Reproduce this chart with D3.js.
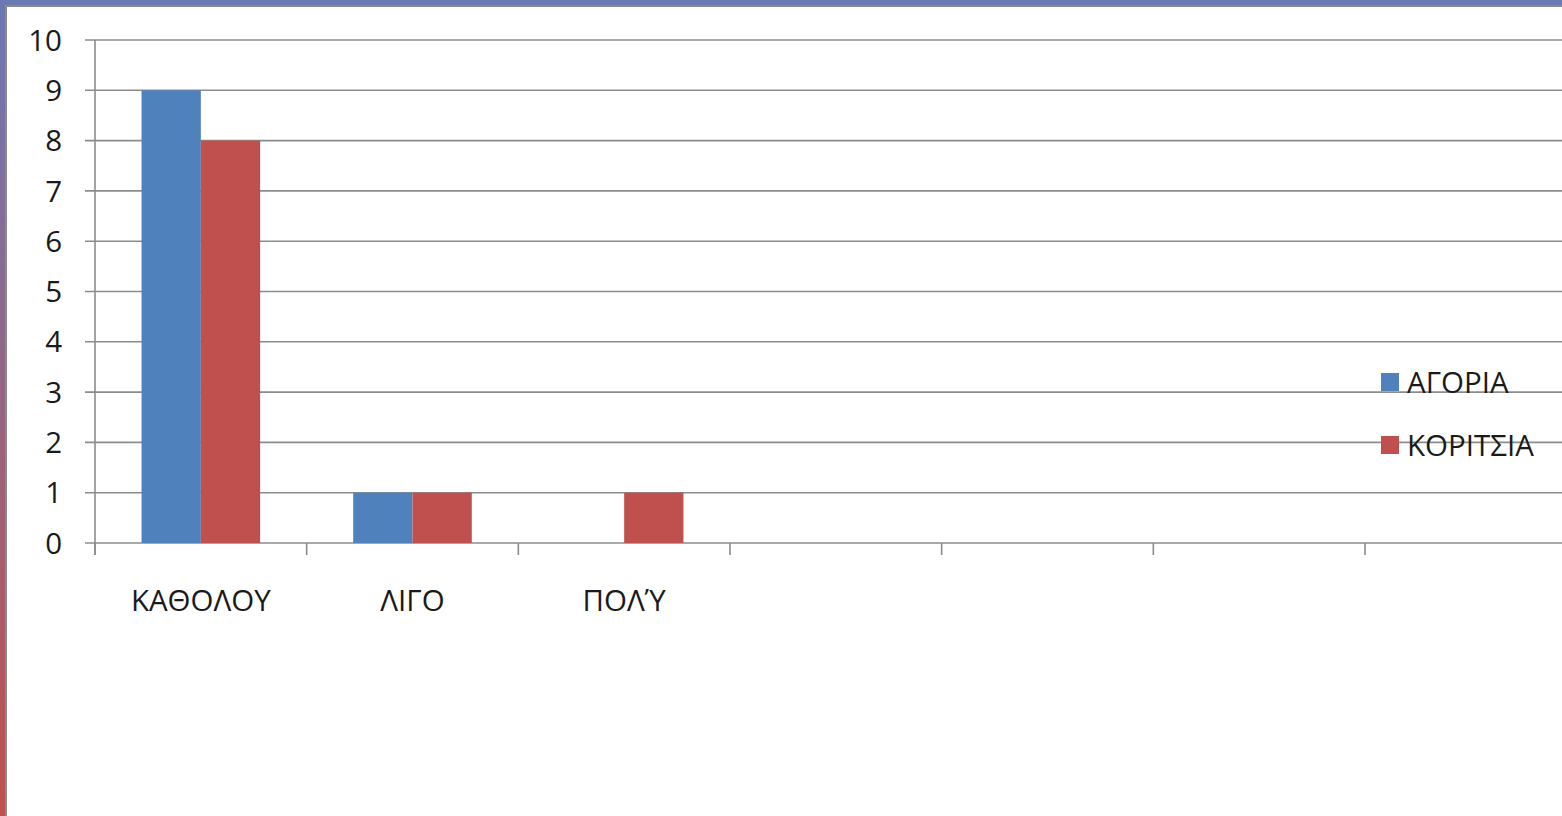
<!DOCTYPE html>
<html><head><meta charset="utf-8">
<script src="https://cdn.jsdelivr.net/npm/d3@7"></script>
<style>html,body{margin:0;padding:0;background:#fff;overflow:hidden}</style>
</head><body>
<svg id="c" width="1562" height="816"></svg>
<script>
const categories = ["ΚΑΘΟΛΟΥ", "ΛΙΓΟ", "ΠΟΛΎ", "", "", "", ""];
const seriesNames = ["ΑΓΟΡΙΑ", "ΚΟΡΙΤΣΙΑ"];
const agoria = [9, 1, 0, null, null, null, null];
const koritsia = [8, 1, 1, null, null, null, null];
const yTicks = [0, 1, 2, 3, 4, 5, 6, 7, 8, 9, 10];
const colors = ["#4f81bd", "#c0504d"];

const svg = d3.select("#c");
const font = "'Open Sans', 'Noto Sans', sans-serif";
const fs = 29.5;

// frame
const defs = svg.append("defs");
const lg = defs.append("linearGradient").attr("id", "lb").attr("x1", 0).attr("x2", 0).attr("y1", 0).attr("y2", 1);
lg.append("stop").attr("offset", "0%").attr("stop-color", "#6c78b4");
lg.append("stop").attr("offset", "100%").attr("stop-color", "#c0504d");
svg.append("rect").attr("x", 0).attr("y", 0).attr("width", 1562).attr("height", 5).attr("fill", "#6c7ab4");
svg.append("rect").attr("x", 0).attr("y", 0).attr("width", 5).attr("height", 816).attr("fill", "url(#lb)");
svg.append("rect").attr("x", 5).attr("y", 5).attr("width", 1557).attr("height", 2).attr("fill", "#8a8a8a");
svg.append("rect").attr("x", 5).attr("y", 5).attr("width", 2).attr("height", 811).attr("fill", "#8a8a8a");

const x0 = 95, slot = (1365 - 95) / 6;
const x = d3.scaleBand().domain(d3.range(categories.length)).range([x0, x0 + slot * categories.length]).paddingInner(0).paddingOuter(0);
const xs = d3.scaleBand().domain([0, 1]).range([0, x.bandwidth()]).paddingOuter(0.785).paddingInner(0);
const y = d3.scaleLinear().domain([0, 10]).range([543, 40]);

// gridlines
svg.append("g").selectAll("line").data(yTicks).join("line")
  .attr("x1", 85).attr("x2", 1562)
  .attr("y1", d => y(d)).attr("y2", d => y(d))
  .attr("stroke", "#8c8c8c").attr("stroke-width", 1.6);

// y axis line
svg.append("line").attr("x1", x0).attr("x2", x0).attr("y1", y(10)).attr("y2", 555)
  .attr("stroke", "#8c8c8c").attr("stroke-width", 1.6);

// x ticks
svg.append("g").selectAll("line").data(d3.range(categories.length + 1)).join("line")
  .attr("x1", d => x0 + d * slot).attr("x2", d => x0 + d * slot)
  .attr("y1", 543).attr("y2", 555)
  .attr("stroke", "#8c8c8c").attr("stroke-width", 1.6);

// y tick labels
svg.append("g").selectAll("text").data(yTicks).join("text")
  .attr("x", 62).attr("y", d => y(d)).attr("dy", "0.36em")
  .attr("text-anchor", "end").attr("font-family", font).attr("font-size", fs).attr("fill", "#1a1a1a")
  .text(d => d);

// bars
const series = [agoria, koritsia];
series.forEach((vals, si) => {
  svg.append("g").selectAll("rect").data(vals.map((v, i) => ({v, i})).filter(d => d.v)).join("rect")
    .attr("x", d => x(d.i) + xs(si))
    .attr("width", xs.bandwidth())
    .attr("y", d => y(d.v))
    .attr("height", d => y(0) - y(d.v))
    .attr("fill", colors[si]);
});

// category labels
svg.append("g").selectAll("text").data(categories).join("text")
  .attr("x", (d, i) => x(i) + x.bandwidth() / 2).attr("y", 611)
  .attr("text-anchor", "middle").attr("font-family", font).attr("font-size", fs).attr("fill", "#1a1a1a")
  .text(d => d);

// legend
const leg = svg.append("g");
seriesNames.forEach((n, i) => {
  const ly = 382 + i * 63;
  leg.append("rect").attr("x", 1381).attr("y", ly - 9).attr("width", 18).attr("height", 18).attr("fill", colors[i]);
  leg.append("text").attr("x", 1407).attr("y", ly).attr("dy", "0.36em")
    .attr("font-family", font).attr("font-size", fs).attr("fill", "#1a1a1a").text(n);
});
</script>
</body></html>
